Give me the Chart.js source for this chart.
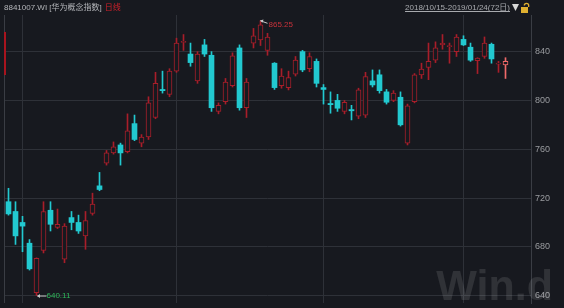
<!DOCTYPE html>
<html><head><meta charset="utf-8">
<script src="https://cdn.jsdelivr.net/npm/chart.js@4/dist/chart.umd.min.js"></script>
<style>html,body{margin:0;padding:0;background:#17191f;overflow:hidden}#wrap{position:relative;width:564px;height:308px}</style>
</head><body><div id="wrap"><canvas id="c" width="564" height="308"></canvas></div>
<script>
// trading days 2018/10/15 - 2019/01/24
const dates = [
 '2018-10-15','2018-10-16','2018-10-17','2018-10-18','2018-10-19','2018-10-22','2018-10-23','2018-10-24','2018-10-25','2018-10-26','2018-10-29','2018-10-30','2018-10-31',
 '2018-11-01','2018-11-02','2018-11-05','2018-11-06','2018-11-07','2018-11-08','2018-11-09','2018-11-12','2018-11-13','2018-11-14','2018-11-15','2018-11-16','2018-11-19','2018-11-20','2018-11-21','2018-11-22','2018-11-23','2018-11-26','2018-11-27','2018-11-28','2018-11-29','2018-11-30',
 '2018-12-03','2018-12-04','2018-12-05','2018-12-06','2018-12-07','2018-12-10','2018-12-11','2018-12-12','2018-12-13','2018-12-14','2018-12-17','2018-12-18','2018-12-19','2018-12-20','2018-12-21','2018-12-24','2018-12-25','2018-12-26','2018-12-27','2018-12-28',
 '2019-01-02','2019-01-03','2019-01-04','2019-01-07','2019-01-08','2019-01-09','2019-01-10','2019-01-11','2019-01-14','2019-01-15','2019-01-16','2019-01-17','2019-01-18','2019-01-21','2019-01-22','2019-01-23','2019-01-24'
];
const openV  = [717,709,700,683,642.5,677,710,696,670,704,700,689,707.5,730,748.5,757,763.5,758,781,765,770,786,809,805,824,847.5,838,816,845.5,837,791,799,812,843,794,847,849.6,841,830.5,812,810.5,821.5,840,826,832,810.5,797.5,800,791,792.5,787,788,816,821,807,800,802.6,765,799,821,827,833,845.5,844,840,850,843.6,832.6,836,846,829.7,829];
const highV  = [728,717,705,686,671,717,717,711,699,709,706,709,724,741,759,766,765,789,788,772,803,823,824,826,851,854,847,840,850,840,798,818,839,845.5,818,859,865.25,855,831,826,824,836,841,839,834,813,807,805,800,796,810,823,825,825,809,808,807,797,822,830.5,847,848,854,847,854,853,847,835,852,847,832,835];
const lowV   = [706,682,676,661,640.11,675,693,695,667,694,691,678,706,726,747,756,747,757,767,762,768,785,806,803,823,841,828,814,836,791,789,797,811,792,786,843,845,837,809,810,808.6,820,823.5,823.5,811,797,789.5,791,789,784,785,786,811,806,797,799,779,763.5,798,818,817,831,842,830.5,836,845,832,822,834.5,830.5,823,818];
const closeV = [707,689,697,662,670.7,709,698.5,698.5,697,700,693,701.5,715,727,757,762,757,775,768,770,798,814,808,824,847,848.5,831,838,838,794,796,815,836.5,794,815,853,862,852,810.5,820,818.7,833,825,836,814,809,796.5,793.6,798.5,791.5,808.6,819.5,812.7,808,798.5,806,780,795.5,821,825.6,832,843,847,845,852,845.5,833,834.6,847,834,830.5,832];
const yTicks = [640,680,720,760,800,840];
const titleText = '8841007.WI [华为概念指数]';
const periodText = '日线';
const rangeText = '2018/10/15-2019/01/24(72日)';
const watermarkText = 'Win.d';

const BG = '#17191f';
const RED = '#a81e2a';
const CYAN = '#22c9d0';
const GRID = '#2e3138';
const LABEL = '#9a9ca0';
const FONT = '"Liberation Sans","Noto Sans CJK SC",sans-serif';

const n = dates.length;
const isUp = i => closeV[i] >= openV[i];
const monthStarts = dates.map((d,i)=> (i>0 && d.slice(0,7)!==dates[i-1].slice(0,7)) ? i : -1).filter(i=>i>=0);

const PLOT_W = 527, SLOT = 7;
const xMin = -4.5/SLOT, xMax = xMin + PLOT_W/SLOT;

const deco = {
  id:'deco',
  beforeDraw(chart){
    const c = chart.ctx;
    c.save(); c.fillStyle = BG; c.fillRect(0,0,chart.width,chart.height); c.restore();
  },
  beforeDatasetsDraw(chart){
    const c = chart.ctx;
    c.save();
    c.font = 'bold 43px ' + FONT;
    c.fillStyle = 'rgba(255,255,255,0.11)';
    c.textAlign = 'right'; c.textBaseline = 'alphabetic';
    c.fillText(watermarkText, 553, 300);
    c.restore();
  },
  afterDraw(chart){
    const c = chart.ctx, a = chart.chartArea, xs = chart.scales.x, ys = chart.scales.y;
    c.save();
    c.strokeStyle = '#3a3d44'; c.lineWidth = 1;
    c.beginPath(); c.moveTo(a.left+0.5, a.top); c.lineTo(a.left+0.5, a.bottom); c.stroke();
    c.fillStyle = '#a8141e'; c.fillRect(a.left, 32, 2, 43);
    c.font = '8px ' + FONT; c.textBaseline = 'middle'; c.textAlign = 'left';
    c.fillStyle = '#b4b6ba'; c.fillText(titleText, 4, 7.5);
    const tw = c.measureText(titleText).width;
    c.fillStyle = '#d0202a'; c.fillText(periodText, 4 + tw + 3, 7.5);
    c.fillStyle = '#a8aaae';
    const rw = c.measureText(rangeText).width;
    const rx = 510 - rw;
    c.fillText(rangeText, rx, 7.5);
    c.fillRect(rx, 11, rw, 1);
    c.fillStyle = '#d8d8d8';
    c.beginPath(); c.moveTo(512, 4); c.lineTo(519, 4); c.lineTo(515.5, 11); c.closePath(); c.fill();
    c.fillStyle = '#e0b030';
    c.fillRect(521, 7, 7, 6);
    c.strokeStyle = '#e0b030'; c.lineWidth = 1.3;
    c.beginPath(); c.arc(526.5, 5.5, 2.2, Math.PI, 0); c.lineTo(528.7, 7); c.stroke();
    let iMax = 0, iMin = 0;
    for (let i=0;i<n;i++){ if (highV[i]>highV[iMax]) iMax=i; if (lowV[i]<lowV[iMin]) iMin=i; }
    const mx = xs.getPixelForValue(iMax), my = ys.getPixelForValue(highV[iMax]);
    c.strokeStyle = '#c8c8c8'; c.fillStyle = '#c8c8c8'; c.lineWidth = 1;
    c.beginPath(); c.moveTo(mx, my); c.lineTo(mx+7, my+2.5); c.stroke();
    c.beginPath(); c.moveTo(mx-0.5, my-0.2); c.lineTo(mx+3, my-1.2); c.lineTo(mx+2, my+2); c.closePath(); c.fill();
    c.font = '8px ' + FONT; c.textBaseline = 'middle'; c.textAlign = 'left';
    c.fillStyle = '#c8323a'; c.fillText(highV[iMax].toFixed(2), mx+8, my+4);
    const nx = xs.getPixelForValue(iMin), ny = ys.getPixelForValue(lowV[iMin]);
    c.strokeStyle = '#c8c8c8'; c.fillStyle = '#c8c8c8';
    c.beginPath(); c.moveTo(nx+1, ny+0.5); c.lineTo(nx+10, ny+0.5); c.stroke();
    c.beginPath(); c.moveTo(nx+0.5, ny+0.5); c.lineTo(nx+3.5, ny-1.5); c.lineTo(nx+3.5, ny+2.5); c.closePath(); c.fill();
    c.fillStyle = '#2eb85a'; c.fillText(lowV[iMin].toFixed(2), nx+10, ny+0.5);
    c.restore();
  }
};

new Chart(document.getElementById('c'), {
  type:'bar',
  data:{
    datasets:[
      {
        label:'body',
        data: dates.map((d,i)=>({x:i, y:[openV[i], closeV[i]]})),
        barThickness:5, grouped:false, order:1, minBarLength:1,
        borderSkipped:false,
        backgroundColor: ctx => isUp(ctx.dataIndex) ? BG : CYAN,
        borderColor: ctx => (ctx.dataIndex===n-1) ? '#f06a6a' : (isUp(ctx.dataIndex) ? RED : CYAN),
        borderWidth: ctx => isUp(ctx.dataIndex) ? 1 : 0
      },
      {
        label:'wick',
        data: dates.map((d,i)=>({x:i, y:[lowV[i], highV[i]]})),
        barThickness:1, grouped:false, order:2,
        borderWidth:0,
        backgroundColor: ctx => (ctx.dataIndex===n-1) ? '#f06a6a' : (isUp(ctx.dataIndex) ? RED : CYAN)
      }
    ]
  },
  options:{
    responsive:false, animation:false, devicePixelRatio:1,
    layout:{padding:{top:15,left:4,right:0,bottom:5}},
    plugins:{legend:{display:false}, tooltip:{enabled:false}},
    scales:{
      x:{
        type:'linear', min:xMin, max:xMax, offset:false,
        afterBuildTicks: s => { s.ticks = monthStarts.map(v=>({value:v})); },
        afterFit: s => { s.height = 0; s.paddingLeft = 0; s.paddingRight = 0; },
        ticks:{display:false},
        grid:{color:GRID, drawTicks:false},
        border:{display:false}
      },
      y:{
        position:'right', min:634, max:870,
        afterBuildTicks: s => { s.ticks = yTicks.map(v=>({value:v})); },
        afterFit: s => { s.width = 33; s.paddingTop = 0; s.paddingBottom = 0; },
        ticks:{color:LABEL, font:{size:9, family:FONT}, padding:4},
        grid:{color:GRID, drawTicks:false},
        border:{color:'#3a3d44'}
      }
    }
  },
  plugins:[deco]
});
</script></body></html>
